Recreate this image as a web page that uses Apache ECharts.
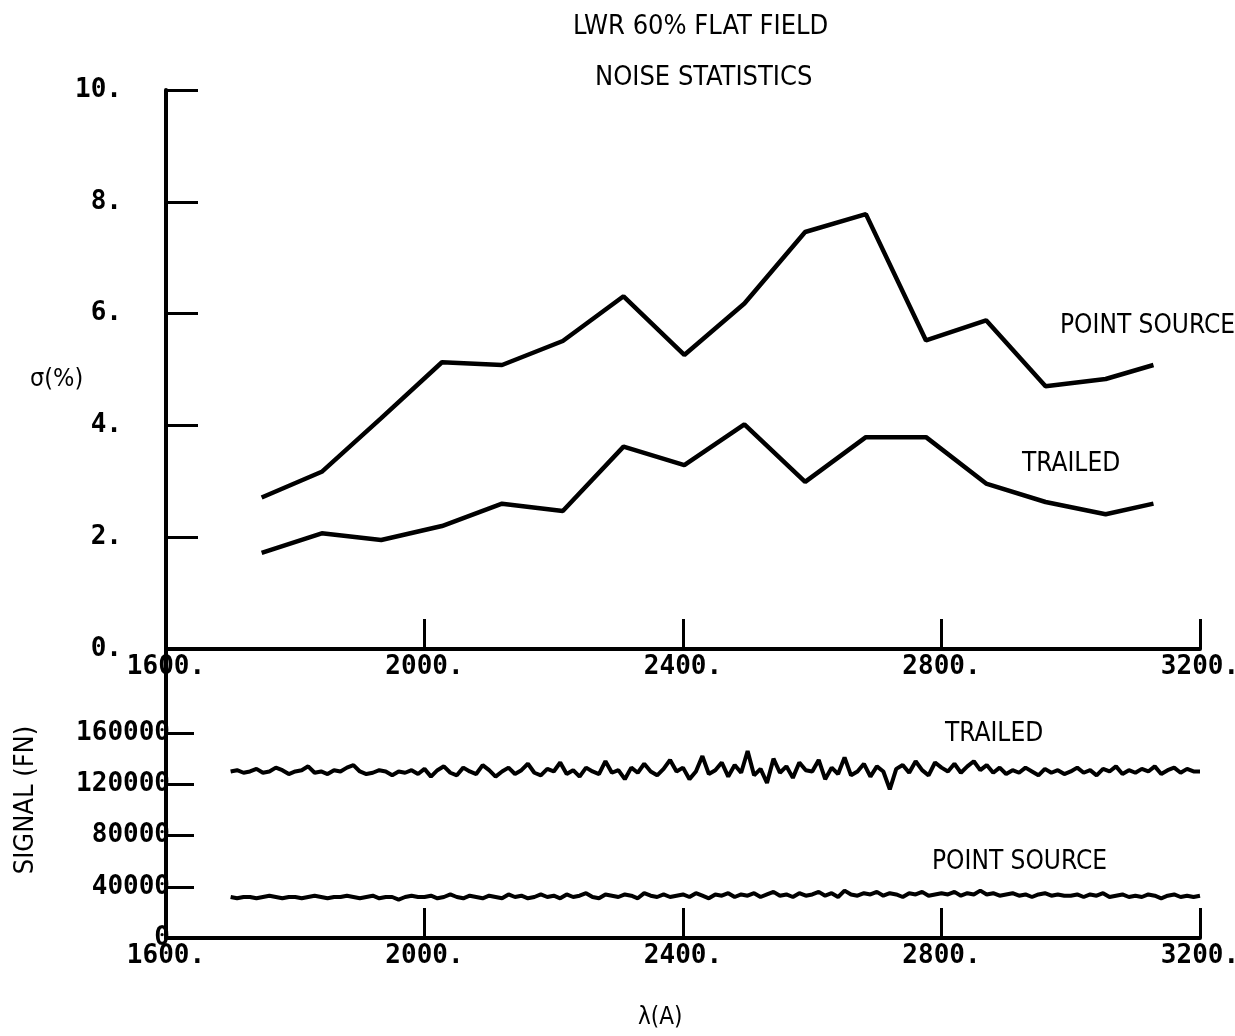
<!DOCTYPE html>
<html><head><meta charset="utf-8">
<script src="https://cdn.jsdelivr.net/npm/echarts@6/dist/echarts.min.js"></script>
<style>html,body{margin:0;padding:0;background:#fff}#c{width:1235px;height:1036px}</style>
</head><body><div id="c"></div>
<script>
// ---- data ----
var xTicks = [1600, 2000, 2400, 2800, 3200];
var sigmaTicks = [0, 2, 4, 6, 8, 10];
var signalTicks = [0, 40000, 80000, 120000, 160000];

var waveNoise = [1748, 1841, 1933, 2027, 2120, 2214, 2308, 2402, 2495, 2589, 2683, 2776, 2869, 2961, 3054, 3128];
var pointSourceSigma = [2.71, 3.17, 4.13, 5.13, 5.08, 5.51, 6.31, 5.26, 6.18, 7.46, 7.78, 5.52, 5.88, 4.70, 4.83, 5.08];
var trailedSigma = [1.72, 2.07, 1.95, 2.20, 2.60, 2.47, 3.62, 3.29, 4.02, 2.99, 3.79, 3.79, 2.96, 2.63, 2.41, 2.60];

var waveSignal = [
1700,1710,1720,1730,1740,1750,1760,1770,1780,1790,
1800,1810,1820,1830,1840,1850,1860,1870,1880,1890,
1900,1910,1920,1930,1940,1950,1960,1970,1980,1990,
2000,2010,2020,2030,2040,2050,2060,2070,2080,2090,
2100,2110,2120,2130,2140,2150,2160,2170,2180,2190,
2200,2210,2220,2230,2240,2250,2260,2270,2280,2290,
2300,2310,2320,2330,2340,2350,2360,2370,2380,2390,
2400,2410,2420,2430,2440,2450,2460,2470,2480,2490,
2500,2510,2520,2530,2540,2550,2560,2570,2580,2590,
2600,2610,2620,2630,2640,2650,2660,2670,2680,2690,
2700,2710,2720,2730,2740,2750,2760,2770,2780,2790,
2800,2810,2820,2830,2840,2850,2860,2870,2880,2890,
2900,2910,2920,2930,2940,2950,2960,2970,2980,2990,
3000,3010,3020,3030,3040,3050,3060,3070,3080,3090,
3100,3110,3120,3130,3140,3150,3160,3170,3180,3190,
3200];
var trailedSignal = [
130000,131000,129000,130000,132000,129000,130000,133000,131000,128000,
130000,131000,134000,129000,130000,128000,131000,130000,133000,135000,
130000,128000,129000,131000,130000,127000,130000,129000,131000,128000,
132000,126000,131000,134000,129000,127000,133000,130000,128000,135000,
131000,126000,130000,133000,128000,131000,136000,129000,127000,132000,
130000,137000,128000,131000,126000,133000,130000,128000,138000,129000,
131000,124000,133000,129000,136000,130000,127000,132000,139000,130000,
133000,124000,130000,142000,128000,131000,137000,126000,135000,129000,
146000,127000,132000,121000,140000,129000,134000,125000,137000,131000,
130000,139000,124000,133000,128000,141000,127000,130000,136000,126000,
134000,130000,116000,132000,135000,129000,138000,131000,127000,137000,
133000,130000,136000,129000,134000,138000,131000,135000,129000,133000,
128000,131000,129000,133000,130000,127000,132000,129000,131000,128000,
130000,133000,129000,131000,127000,132000,130000,134000,128000,131000,
129000,132000,130000,134000,128000,131000,133000,129000,132000,130000,
130000];
var pointSignal = [
32000,31000,32000,32000,31000,32000,33000,32000,31000,32000,
32000,31000,32000,33000,32000,31000,32000,32000,33000,32000,
31000,32000,33000,31000,32000,32000,30000,32000,33000,32000,
32000,33000,31000,32000,34000,32000,31000,33000,32000,31000,
33000,32000,31000,34000,32000,33000,31000,32000,34000,32000,
33000,31000,34000,32000,33000,35000,32000,31000,34000,33000,
32000,34000,33000,31000,35000,33000,32000,34000,32000,33000,
34000,32000,35000,33000,31000,34000,33000,35000,32000,34000,
33000,35000,32000,34000,36000,33000,34000,32000,35000,33000,
34000,36000,33000,35000,32000,37000,34000,33000,35000,34000,
36000,33000,35000,34000,32000,35000,34000,36000,33000,34000,
35000,34000,36000,33000,35000,34000,37000,34000,35000,33000,
34000,35000,33000,34000,32000,34000,35000,33000,34000,33000,
33000,34000,32000,34000,33000,35000,32000,33000,34000,32000,
33000,32000,34000,33000,31000,33000,34000,32000,33000,32000,
33000];

function pairs(xs, ys){ return xs.map(function(x,i){ return [x, ys[i]]; }); }

var tickFont = {fontFamily:'DejaVu Sans Mono', fontWeight:'bold', fontSize:26, color:'#000'};
var labFont = '"Liberation Sans Narrow","DejaVu Sans Condensed","DejaVu Sans",sans-serif';
var lineStyleAxis = {color:'#000', width:4};

var chart = echarts.init(document.getElementById('c'), null, {renderer:'canvas'});
chart.setOption({
  backgroundColor:'#fff',
  animation:false,
  grid:[
    {left:166, top:90, width:1034, height:559, containLabel:false, outerBoundsMode:'none'},
    {left:166, top:649, width:1034, height:289, containLabel:false, outerBoundsMode:'none'}
  ],
  xAxis:[
    {gridIndex:0, type:'value', min:1600, max:3200, interval:400,
     axisLine:{lineStyle:lineStyleAxis}, splitLine:{show:false},
     axisTick:{inside:true, length:30, lineStyle:{color:'#000', width:3}},
     axisLabel:Object.assign({margin:5, formatter:function(v){return v+'.';}}, tickFont)},
    {gridIndex:1, type:'value', min:1600, max:3200, interval:400,
     axisLine:{lineStyle:lineStyleAxis}, splitLine:{show:false},
     axisTick:{inside:true, length:30, lineStyle:{color:'#000', width:3}},
     axisLabel:Object.assign({margin:5, formatter:function(v){return v+'.';}}, tickFont)}
  ],
  yAxis:[
    {gridIndex:0, type:'value', min:0, max:10, interval:2,
     axisLine:{show:true, lineStyle:lineStyleAxis}, splitLine:{show:false},
     axisTick:{inside:true, length:32, lineStyle:{color:'#000', width:3}},
     axisLabel:Object.assign({margin:44, formatter:function(v){return v+'.';}}, tickFont)},
    {gridIndex:1, type:'value', min:0, max:225600,
     axisLine:{show:true, lineStyle:lineStyleAxis}, splitLine:{show:false},
     axisTick:{inside:true, length:28, customValues:signalTicks, lineStyle:{color:'#000', width:3}},
     axisLabel:Object.assign({margin:-4, customValues:signalTicks, formatter:function(v){return String(v);}}, tickFont)}
  ],
  series:[
    {type:'line', xAxisIndex:0, yAxisIndex:0, data:pairs(waveNoise, pointSourceSigma), showSymbol:false, lineStyle:{color:'#000', width:4.5}},
    {type:'line', xAxisIndex:0, yAxisIndex:0, data:pairs(waveNoise, trailedSigma), showSymbol:false, lineStyle:{color:'#000', width:4.5}},
    {type:'line', xAxisIndex:1, yAxisIndex:1, data:pairs(waveSignal, trailedSignal), showSymbol:false, lineStyle:{color:'#000', width:4}},
    {type:'line', xAxisIndex:1, yAxisIndex:1, data:pairs(waveSignal, pointSignal), showSymbol:false, lineStyle:{color:'#000', width:4}}
  ],
  graphic:[
    {type:'text', left:573, top:13, style:{text:'LWR 60% FLAT FIELD', font:'27px '+labFont, fill:'#000'}},
    {type:'text', left:595, top:64, style:{text:'NOISE STATISTICS', font:'27px '+labFont, fill:'#000'}},
    {type:'text', left:1060, top:313, style:{text:'POINT SOURCE', font:'26px '+labFont, fill:'#000'}},
    {type:'text', left:1022, top:451, style:{text:'TRAILED', font:'26px '+labFont, fill:'#000'}},
    {type:'text', left:945, top:721, style:{text:'TRAILED', font:'26px '+labFont, fill:'#000'}},
    {type:'text', left:932, top:849, style:{text:'POINT SOURCE', font:'26px '+labFont, fill:'#000'}},
    {type:'text', left:30, top:367, style:{text:'σ(%)', font:'25px '+labFont, fill:'#000'}},
    {type:'text', left:638, top:1006, style:{text:'λ(A)', font:'24px '+labFont, fill:'#000'}},
    {type:'text', x:26, y:800, rotation:Math.PI/2, style:{text:'SIGNAL (FN)', font:'27px '+labFont, fill:'#000', align:'center', verticalAlign:'middle'}}
  ]
});
</script></body></html>
